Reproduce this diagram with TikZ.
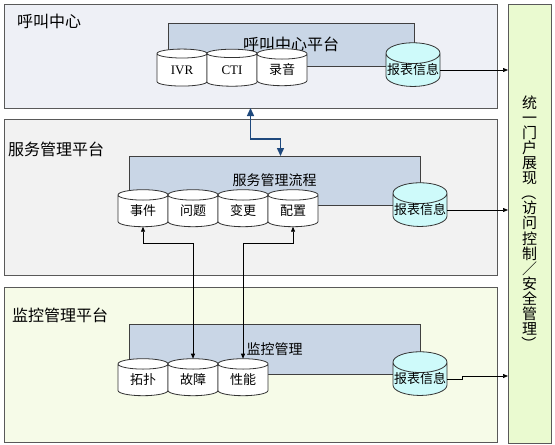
\documentclass[tikz,border=0pt]{standalone}
\usepackage{graphicx}
\usepackage{fontspec}
\setmainfont{Noto Sans CJK SC}
\newfontfamily\latin{Liberation Serif}
\usetikzlibrary{positioning,shapes.geometric,arrows.meta}

\definecolor{callbg}{RGB}{238,240,246}
\definecolor{svcbg}{RGB}{242,242,242}
\definecolor{monbg}{RGB}{246,251,232}
\definecolor{corebg}{RGB}{201,214,230}
\definecolor{rptbg}{RGB}{206,250,250}
\definecolor{portalbg}{RGB}{234,250,208}
\definecolor{linkblue}{RGB}{31,73,125}

\newcommand{\vparen}[1]{\rotatebox[origin=c]{-90}{#1}}

\begin{document}
\begin{tikzpicture}[x=1pt, y=-1pt,
    layer/.style = {draw=black!65, line width=1pt, inner sep=0pt, outer sep=0pt, anchor=north west},
    core/.style = {draw=black!75, fill=corebg, line width=0.8pt, inner sep=0pt, outer sep=0pt, anchor=north west},
    db/.style = {draw=black!80, fill=white, cylinder, shape border rotate=90, aspect=0.4, minimum width=50pt, minimum height=37pt, inner sep=0pt, outer sep=0pt, line width=0.8pt, font=\fontsize{13}{13}\selectfont},
    rpt/.style = {db, fill=rptbg, minimum width=54pt},
    lbl/.style = {anchor=west, inner sep=0pt, font=\fontsize{16}{16}\selectfont},
    feed/.style = {draw, line width=0.7pt, -{Triangle[length=5pt,width=4pt]}},
    both/.style = {draw, line width=0.7pt, {Triangle[length=5pt,width=4pt]}-{Triangle[length=5pt,width=4pt]}},
    link/.style = {draw=linkblue, line width=1.4pt, {Triangle[length=8pt,width=7pt]}-{Triangle[length=8pt,width=7pt]}}]

    \useasboundingbox (0,0) rectangle (555,445);

    % call centre
    \node[layer, fill=callbg, minimum width=493pt, minimum height=104pt] (callbox) at (4,4) {};
    \node[lbl] (calltag) at (17,21) {呼叫中心};
    \node[core, minimum width=246pt, minimum height=43pt, font=\fontsize{16}{16}\selectfont] (callcore) at (168,23) {呼叫中心平台};
    \node[db] (ivr) at (182,70) {\latin IVR};
    \node[db, right=0pt of ivr] (cti) {\latin CTI};
    \node[db, right=0pt of cti] (rec) {录音};
    \node[rpt] (callrpt) at (413,70) {报表信息};

    % service management
    \node[layer, fill=svcbg, minimum width=493pt, minimum height=156pt] (svcbox) at (4,119) {};
    \node[lbl] (svctag) at (8,149) {服务管理平台};
    \node[core, minimum width=291pt, minimum height=49pt, font=\fontsize{14}{14}\selectfont] (svccore) at (129,156) {服务管理流程};
    \node[db] (evt) at (143,211) {事件};
    \node[db, right=0pt of evt] (prob) {问题};
    \node[db, right=0pt of prob] (chg) {变更};
    \node[db, right=0pt of chg] (cfg) {配置};
    \node[rpt] (svcrpt) at (420,210) {报表信息};

    % monitoring
    \node[layer, fill=monbg, minimum width=493pt, minimum height=155pt] (monbox) at (4,287) {};
    \node[lbl] (montag) at (12,315) {监控管理平台};
    \node[core, minimum width=291pt, minimum height=50pt, font=\fontsize{14}{14}\selectfont] (moncore) at (129,324) {监控管理};
    \node[db] (topo) at (143,380) {拓扑};
    \node[db, right=0pt of topo] (fault) {故障};
    \node[db, right=0pt of fault] (perf) {性能};
    \node[rpt] (monrpt) at (420,379) {报表信息};

    % portal
    \node[layer, fill=portalbg, minimum width=43pt, minimum height=439pt, align=center,
          font=\fontsize{15}{15.1}\selectfont] (portal) at (508,4)
          {统\\一\\门\\户\\展\\现\\\vparen{（}\\访\\问\\控\\制\\／\\安\\全\\管\\理\\\vparen{）}};

    % links
    \draw[feed] (callrpt.east) -- (callrpt.east -| portal.west);
    \draw[feed] (svcrpt.east) -- (svcrpt.east -| portal.west);
    \draw[feed] (monrpt.east) -- ++(15,0) |- ([yshift=3pt]monrpt.east -| portal.west);
    \draw[link] (callbox.south) -- ++(0,31) -| ([xshift=6pt]svccore.north);
    \draw[both] (evt.south) -- ++(0,17) -| (fault.north);
    \draw[both] (cfg.south) -- ++(0,17) -| (perf.north);
\end{tikzpicture}
\end{document}
